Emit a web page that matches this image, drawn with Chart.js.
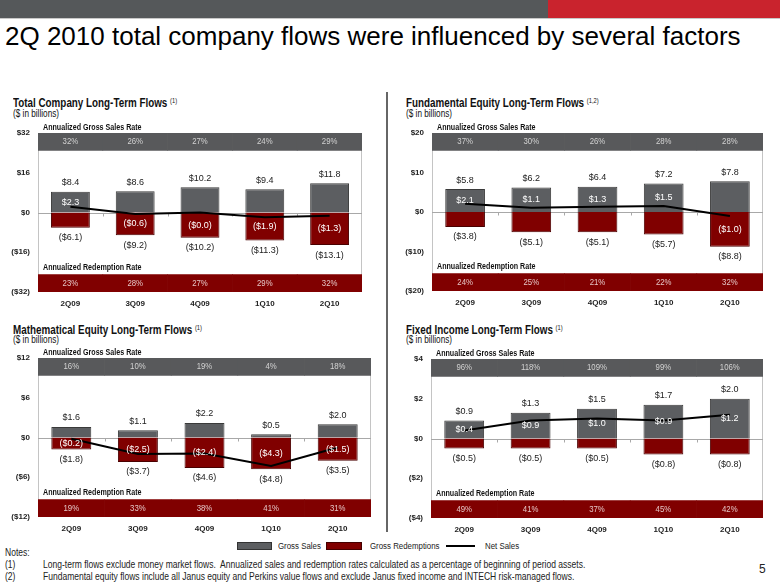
<!DOCTYPE html>
<html>
<head>
<meta charset="utf-8">
<script src="https://cdn.jsdelivr.net/npm/chart.js@4.4.1/dist/chart.umd.min.js"></script>
<style>
  body { margin: 0; width: 780px; height: 585px; position: relative; overflow: hidden; background: #fff;
         font-family: "Liberation Sans", Arial, sans-serif; color: #111; }
  .abs { position: absolute; white-space: nowrap; }
  /* the slide uses Arial Narrow: squeeze the regular face */
  .narrow { transform: scaleX(0.82); transform-origin: 0 50%; }
  .ttl { font-weight: bold; font-size: 12px; line-height: 12px; }
  .ttl sup { font-size: 7px; font-weight: normal; vertical-align: 4px; }
  .sub { font-size: 10px; line-height: 10px; }
  .note { font-size: 10.4px; line-height: 10px; color: #222; }
  .leg { font-size: 9.6px; line-height: 10px; color: #222; }
  canvas { position: absolute; }
</style>
</head>
<body>
<div class="abs" style="left:0;top:0;width:548px;height:18px;background:#55585a"></div>
<div class="abs" style="left:548px;top:0;width:232px;height:18px;background:#c9232d"></div>
<div class="abs" style="left:0;top:18px;width:780px;height:1px;background:#c8c8c8"></div>
<div class="abs" style="left:5px;top:23px;font-size:26px;line-height:26px;color:#000">2Q 2010 total company flows were influenced by several factors</div>

<div class="abs" style="left:386px;top:92px;width:2px;height:440px;background:#666"></div>

<div class="abs narrow ttl" style="left:13px;top:95px">Total Company Long-Term Flows <sup>(1)</sup></div>
<div class="abs narrow sub" style="left:13px;top:109px">($ in billions)</div>
<div class="abs narrow ttl" style="left:406px;top:95px">Fundamental Equity Long-Term Flows <sup>(1,2)</sup></div>
<div class="abs narrow sub" style="left:406px;top:109px">($ in billions)</div>
<div class="abs narrow ttl" style="left:13px;top:322px">Mathematical Equity Long-Term Flows <sup>(1)</sup></div>
<div class="abs narrow sub" style="left:13px;top:335px">($ in billions)</div>
<div class="abs narrow ttl" style="left:406px;top:322px">Fixed Income Long-Term Flows <sup>(1)</sup></div>
<div class="abs narrow sub" style="left:406px;top:335px">($ in billions)</div>

<canvas id="totalChart"></canvas>
<canvas id="fundamentalChart"></canvas>
<canvas id="mathChart"></canvas>
<canvas id="fixedChart"></canvas>

<!-- shared legend -->
<div class="abs" style="left:237px;top:542px;width:35px;height:8px;box-sizing:border-box;background:#5c5e61;border:1px solid #333"></div>
<div class="abs narrow leg" style="left:278px;top:541px">Gross Sales</div>
<div class="abs" style="left:326px;top:542px;width:36px;height:8px;box-sizing:border-box;background:#800000;border:1px solid #400"></div>
<div class="abs narrow leg" style="left:370px;top:541px">Gross Redemptions</div>
<div class="abs" style="left:446px;top:545px;width:29px;height:1.5px;background:#000"></div>
<div class="abs narrow leg" style="left:485px;top:541px">Net Sales</div>

<div class="abs narrow note" style="left:5px;top:548px">Notes:</div>
<div class="abs narrow note" style="left:5px;top:560px">(1)</div>
<div class="abs narrow note" style="left:43px;top:560px">Long-term flows exclude money market flows.&nbsp; Annualized sales and redemption rates calculated as a percentage of beginning of period assets.</div>
<div class="abs narrow note" style="left:5px;top:572px">(2)</div>
<div class="abs narrow note" style="left:43px;top:572px">Fundamental equity flows include all Janus equity and Perkins value flows and exclude Janus fixed income and INTECH risk-managed flows.</div>
<div class="abs" style="left:759px;top:563px;font-size:12px;line-height:12px;color:#222">5</div>

<script>
const quarters = ['2Q09', '3Q09', '4Q09', '1Q10', '2Q10'];

// Total company long-term flows ($B)
const totalGross = [8.4, 8.6, 10.2, 9.4, 11.8];
const totalRedemptions = [-6.1, -9.2, -10.2, -11.3, -13.1];
const totalNet = [2.3, -0.6, -0.04, -1.9, -1.3];
const totalSalesRate = [32, 26, 27, 24, 29];
const totalRedemptionRate = [23, 28, 27, 29, 32];
const totalTicks = [-32, -16, 0, 16, 32];

// Fundamental equity
const fundGross = [5.8, 6.2, 6.4, 7.2, 7.8];
const fundRedemptions = [-3.8, -5.1, -5.1, -5.7, -8.8];
const fundNet = [2.1, 1.1, 1.3, 1.5, -1.0];
const fundSalesRate = [37, 30, 26, 28, 28];
const fundRedemptionRate = [24, 25, 21, 22, 32];
const fundTicks = [-20, -10, 0, 10, 20];

// Mathematical equity
const mathGross = [1.6, 1.1, 2.2, 0.5, 2.0];
const mathRedemptions = [-1.8, -3.7, -4.6, -4.8, -3.5];
const mathNet = [-0.2, -2.5, -2.4, -4.3, -1.5];
const mathSalesRate = [16, 10, 19, 4, 18];
const mathRedemptionRate = [19, 33, 38, 41, 31];
const mathTicks = [-12, -6, 0, 6, 12];

// Fixed income
const fixedGross = [0.9, 1.3, 1.5, 1.7, 2.0];
const fixedRedemptions = [-0.5, -0.5, -0.5, -0.8, -0.8];
const fixedNet = [0.4, 0.9, 1.0, 0.9, 1.2];
const fixedSalesRate = [96, 118, 109, 99, 106];
const fixedRedemptionRate = [49, 41, 37, 45, 42];
const fixedTicks = [-4, -2, 0, 2, 4];

const GRAY = '#5c5e61', RED = '#800000';
const FONT = '"Liberation Sans", Arial, sans-serif';
const BAND = 0.78; // rate bands fill the outer 22% of each half of the axis

const money = v => v < 0 ? `($${(-v).toFixed(1)})` : `$${v.toFixed(1)}`;
const tickMoney = v => v < 0 ? `($${-v})` : `$${v}`;

//condensed text, like Arial Narrow
const fillNarrow = (ctx, text, x, y) => {
  ctx.save();
  ctx.translate(x, y);
  ctx.scale(0.82, 1);
  ctx.fillText(text, 0, 0);
  ctx.restore();
};

const makeFlowChart = (id, plot, d) => {
  const padL = 40, padT = 16, padR = 6, padB = 22;
  const canvas = document.getElementById(id);
  canvas.width = plot.r - plot.l + padL + padR;
  canvas.height = plot.b - plot.t + padT + padB;
  canvas.style.left = (plot.l - padL) + 'px';
  canvas.style.top = (plot.t - padT) + 'px';

  const hi = d.ticks[d.ticks.length - 1], lo = d.ticks[0];

  //frame, zero line and the value / rate labels
  const flowLabels = {
    id: 'flowLabels',
    beforeDatasetsDraw(chart) {
      const {ctx, chartArea: a, scales: {x, y}} = chart;
      ctx.save();
      ctx.strokeStyle = '#c4c4c4';
      ctx.lineWidth = 1;
      ctx.strokeRect(a.left + 0.5, a.top + 0.5, a.width - 1, a.height - 1);
      const y0 = Math.round(y.getPixelForValue(0)) + 0.5;
      ctx.strokeStyle = '#a8a8a8';
      ctx.beginPath();
      ctx.moveTo(a.left, y0);
      ctx.lineTo(a.right, y0);
      for (let i = 1; i < quarters.length; i++) {
        const xb = Math.round((x.getPixelForValue(i - 1) + x.getPixelForValue(i)) / 2) + 0.5;
        ctx.moveTo(xb, y0);
        ctx.lineTo(xb, y0 + 3);
      }
      ctx.stroke();
      ctx.restore();
    },
    afterDatasetsDraw(chart) {
      const {ctx, chartArea: a, scales: {x, y}} = chart;
      const yz = y.getPixelForValue(0);
      const hiMid = (y.getPixelForValue(hi) + y.getPixelForValue(hi * BAND)) / 2;
      const loMid = (y.getPixelForValue(lo) + y.getPixelForValue(lo * BAND)) / 2;
      ctx.save();
      ctx.textAlign = 'center';
      ctx.textBaseline = 'middle';
      quarters.forEach((q, i) => {
        const cx = x.getPixelForValue(i);
        const yg = y.getPixelForValue(d.gross[i]);
        const yr = y.getPixelForValue(d.red[i]);
        ctx.font = '9px ' + FONT;
        ctx.fillStyle = '#222';
        ctx.fillText(money(d.gross[i]), cx, yg - 9);
        ctx.fillText(money(d.red[i]), cx, yr + 10);
        ctx.fillStyle = '#fff';
        ctx.fillText(money(d.net[i]), cx, d.net[i] >= 0 ? (yz + yg) / 2 : (yz + yr) / 2);
        ctx.font = '9.5px ' + FONT;
        ctx.fillStyle = '#d2d2d2';
        fillNarrow(ctx, d.salesRate[i] + '%', cx, hiMid);
        ctx.fillStyle = '#e4c4c4';
        fillNarrow(ctx, d.redRate[i] + '%', cx, loMid);
      });
      ctx.textAlign = 'left';
      ctx.font = 'bold 8.7px ' + FONT;
      ctx.fillStyle = '#111';
      fillNarrow(ctx, 'Annualized Gross Sales Rate', a.left + 5, a.top - 5);
      fillNarrow(ctx, 'Annualized Redemption Rate', a.left + 5, y.getPixelForValue(lo * BAND) - 7);
      ctx.restore();
    }
  };

  const bar = {type: 'bar', categoryPercentage: 1, grouped: false};
  return new Chart(canvas, {
    type: 'bar',
    data: {
      labels: quarters,
      datasets: [
        {type: 'line', data: d.net, borderColor: '#000', borderWidth: 2, pointRadius: 0, tension: 0, order: 0},
        {...bar, data: d.gross, backgroundColor: GRAY, borderColor: '#3a3a3a', borderWidth: 1, barPercentage: 0.6, order: 1},
        {...bar, data: d.red, backgroundColor: RED, borderColor: '#4a0000', borderWidth: 1, barPercentage: 0.6, order: 1},
        {...bar, data: quarters.map(() => [hi * BAND, hi]), backgroundColor: '#58595b', borderWidth: 0, barPercentage: 1, order: 2},
        {...bar, data: quarters.map(() => [lo, lo * BAND]), backgroundColor: RED, borderWidth: 0, barPercentage: 1, order: 2}
      ]
    },
    options: {
      responsive: false,
      animation: false,
      layout: {padding: {top: padT, right: padR, left: 0, bottom: 0}},
      plugins: {legend: {display: false}, tooltip: {enabled: false}},
      scales: {
        x: {
          grid: {display: false, drawTicks: false},
          border: {display: false},
          ticks: {padding: 7, color: '#222', font: {family: FONT, size: 8, weight: 'bold'}},
          afterFit: s => { s.height = padB; }
        },
        y: {
          min: lo,
          max: hi,
          afterBuildTicks: s => { s.ticks = d.ticks.map(v => ({value: v})); },
          grid: {display: false, drawTicks: false},
          border: {display: false},
          ticks: {padding: 8, color: '#222', callback: tickMoney,
                  font: {family: FONT, size: 8, weight: 'bold'}},
          afterFit: s => { s.width = padL; }
        }
      }
    },
    plugins: [flowLabels]
  });
};

makeFlowChart('totalChart', {l: 38, r: 362, t: 133, b: 292}, {
  gross: totalGross, red: totalRedemptions, net: totalNet,
  salesRate: totalSalesRate, redRate: totalRedemptionRate, ticks: totalTicks
});
makeFlowChart('fundamentalChart', {l: 432, r: 763, t: 133, b: 291}, {
  gross: fundGross, red: fundRedemptions, net: fundNet,
  salesRate: fundSalesRate, redRate: fundRedemptionRate, ticks: fundTicks
});
makeFlowChart('mathChart', {l: 38, r: 371, t: 358, b: 517}, {
  gross: mathGross, red: mathRedemptions, net: mathNet,
  salesRate: mathSalesRate, redRate: mathRedemptionRate, ticks: mathTicks
});
makeFlowChart('fixedChart', {l: 431, r: 763, t: 359, b: 518}, {
  gross: fixedGross, red: fixedRedemptions, net: fixedNet,
  salesRate: fixedSalesRate, redRate: fixedRedemptionRate, ticks: fixedTicks
});
</script>
</body>
</html>
